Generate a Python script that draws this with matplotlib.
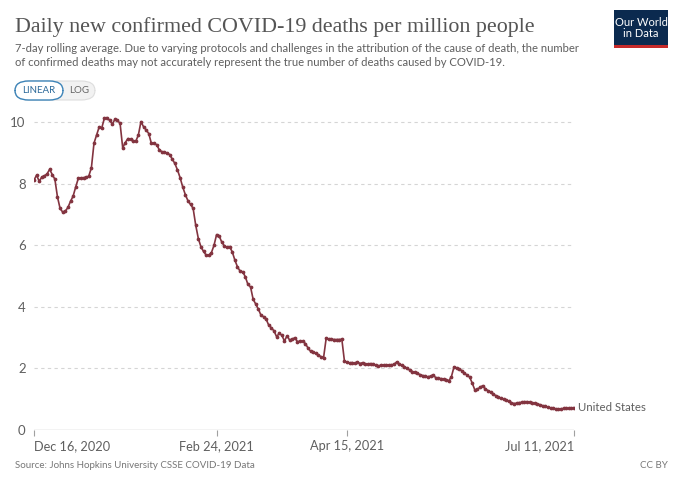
import numpy as np
import pandas as pd
import matplotlib.pyplot as plt
from matplotlib.patches import FancyBboxPatch, Rectangle

# daily 7-day average of confirmed deaths per million, United States
start_date = "2020-12-16"
deaths_per_million = [
    8.12, 8.28, 8.08, 8.22, 8.26, 8.32, 8.47, 8.30, 8.15, 7.57,
    7.20, 7.08, 7.11, 7.23, 7.43, 7.60, 7.90, 8.18, 8.19, 8.20,
    8.21, 8.25, 8.52, 9.32, 9.58, 9.85, 9.82, 10.14, 10.15, 10.06,
    9.94, 10.09, 10.06, 9.96, 9.17, 9.34, 9.47, 9.44, 9.40, 9.38,
    9.58, 10.02, 9.85, 9.75, 9.63, 9.31, 9.31, 9.27, 9.11, 9.04,
    9.03, 9.00, 8.95, 8.80, 8.66, 8.45, 8.20, 7.90, 7.65, 7.45,
    7.33, 7.20, 6.65, 6.22, 5.95, 5.80, 5.68, 5.68, 5.76, 6.00,
    6.35, 6.30, 6.10, 5.98, 5.93, 5.95, 5.79, 5.52, 5.30, 5.16,
    5.14, 4.98, 4.73, 4.65, 4.25, 4.09, 3.93, 3.73, 3.68, 3.60,
    3.40, 3.32, 3.22, 3.03, 3.14, 3.08, 2.89, 3.06, 2.92, 2.95,
    3.00, 2.87, 2.89, 2.89, 2.81, 2.67, 2.56, 2.52, 2.49, 2.44,
    2.38, 2.35, 2.98, 2.95, 2.95, 2.94, 2.94, 2.94, 2.95, 2.24,
    2.20, 2.18, 2.19, 2.17, 2.21, 2.16, 2.19, 2.15, 2.14, 2.16,
    2.13, 2.10, 2.08, 2.11, 2.11, 2.11, 2.11, 2.12, 2.13, 2.21,
    2.13, 2.10, 2.06, 2.00, 1.95, 1.90, 1.87, 1.84, 1.80, 1.77,
    1.74, 1.73, 1.75, 1.79, 1.70, 1.68, 1.67, 1.66, 1.64, 1.60,
    1.73, 2.05, 2.02, 1.98, 1.93, 1.85, 1.78, 1.72, 1.52, 1.30,
    1.32, 1.39, 1.44, 1.34, 1.28, 1.24, 1.16, 1.12, 1.08, 1.03,
    1.00, 0.97, 0.93, 0.89, 0.86, 0.87, 0.89, 0.90, 0.92, 0.92,
    0.90, 0.89, 0.87, 0.85, 0.82, 0.79, 0.77, 0.74, 0.72, 0.70,
    0.69, 0.68, 0.69, 0.70, 0.70, 0.70, 0.71, 0.73,
]
country = "United States"
tick_dates = ["2020-12-16", "2021-02-24", "2021-04-15", "2021-07-11"]
tick_labels = ["Dec 16, 2020", "Feb 24, 2021", "Apr 15, 2021", "Jul 11, 2021"]
y_ticks = [0, 2, 4, 6, 8, 10]

dates = pd.date_range(start_date, periods=len(deaths_per_million), freq="D")

line_color = "#833440"
text_grey = "#5f5f5f"
plt.rcParams["font.family"] = ["Lato", "DejaVu Sans"]

fig = plt.figure(figsize=(6.8, 4.8), dpi=100)
ax = fig.add_axes([34 / 680, 1 - 430 / 480, 540 / 680, 317 / 480])

ax.plot(dates, deaths_per_million, color=line_color, lw=1.2,
        marker="o", ms=1.7, mec=line_color, mfc=line_color)
ax.set_xlim(dates[0], dates[-1])
ax.set_ylim(0, 10.3)

for v in y_ticks[1:]:
    ax.axhline(v, color="#d5d5d5", lw=0.8, ls=(0, (3, 3)), zorder=0)
ax.axhline(0, color="#a0a0a0", lw=0.9, zorder=1)
for s in ax.spines.values():
    s.set_visible(False)
ax.set_yticks(y_ticks)
ax.set_yticklabels([str(v) for v in y_ticks])
ax.tick_params(axis="y", length=0, pad=6, labelsize=9.5, labelcolor=text_grey)

tick_pos = pd.to_datetime(tick_dates)
ax.set_xticks(tick_pos)
ax.set_xticklabels(tick_labels)
ax.tick_params(axis="x", length=4, width=0.8, color="#a0a0a0", pad=3,
               labelsize=9.2, labelcolor=text_grey)
xl = ax.get_xticklabels()
xl[0].set_ha("left")
xl[-1].set_ha("right")

ax.annotate(country, (dates[-1], deaths_per_million[-1]), xytext=(3, 0),
            textcoords="offset points", va="center", ha="left",
            fontsize=8.2, color=text_grey, annotation_clip=False)

# header
fig.text(15 / 680, 1 - 27 / 480, "Daily new confirmed COVID-19 deaths per million people",
         family="Liberation Serif", fontsize=15.8, color="#555555", va="center")
fig.text(15 / 680, 1 - 48 / 480,
         "7-day rolling average. Due to varying protocols and challenges in the attribution "
         "of the cause of death, the number", fontsize=8.1, color=text_grey, va="center")
fig.text(15 / 680, 1 - 62 / 480,
         "of confirmed deaths may not accurately represent the true number of deaths "
         "caused by COVID-19.", fontsize=8.1, color=text_grey, va="center")

# linear / log buttons
fig.patches.append(FancyBboxPatch((15 / 680, 1 - 100 / 480), 80 / 680, 19 / 480,
                                  boxstyle="round,pad=0,rounding_size=0.02",
                                  transform=fig.transFigure, fc="#f2f2f2", ec="#dddddd", lw=0.8))
fig.patches.append(FancyBboxPatch((15 / 680, 1 - 100 / 480), 48 / 680, 19 / 480,
                                  boxstyle="round,pad=0,rounding_size=0.02",
                                  transform=fig.transFigure, fc="white", ec="#3d84b8", lw=1.0))
fig.text(39 / 680, 1 - 90.5 / 480, "LINEAR", fontsize=7, color="#2c6a9a",
         ha="center", va="center")
fig.text(79 / 680, 1 - 90.5 / 480, "LOG", fontsize=7, color="#666666",
         ha="center", va="center")

# logo
fig.patches.append(Rectangle((614 / 680, 1 - 45 / 480), 54 / 680, 35 / 480,
                             transform=fig.transFigure, fc="#0b2a4f", ec="none"))
fig.patches.append(Rectangle((614 / 680, 1 - 48 / 480), 54 / 680, 3 / 480,
                             transform=fig.transFigure, fc="#c62a2a", ec="none"))
fig.text(641 / 680, 1 - 28 / 480, "Our World\nin Data", fontsize=8, color="white",
         ha="center", va="center", linespacing=1.0)

# footer
fig.text(15 / 680, 1 - 466 / 480, "Source: Johns Hopkins University CSSE COVID-19 Data",
         fontsize=7, color="#777777", va="center")
fig.text(668 / 680, 1 - 466 / 480, "CC BY", fontsize=7, color="#777777",
         va="center", ha="right")

fig.savefig("out.png", dpi=100)
